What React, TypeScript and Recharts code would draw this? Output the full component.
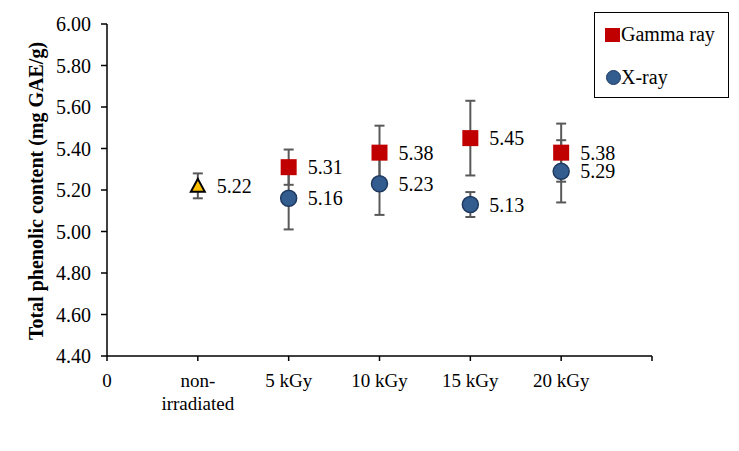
import { ScatterChart, Scatter, XAxis, YAxis, ErrorBar } from 'recharts';

const xTicks = [0, 1, 2, 3, 4, 5, 6];
const xLabels = ['0', 'non-\nirradiated', '5 kGy', '10 kGy', '15 kGy', '20 kGy', ''];
const yTicks = [4.4, 4.6, 4.8, 5.0, 5.2, 5.4, 5.6, 5.8, 6.0];

const controlX = [1];
const controlY = [5.22];
const controlErr = [0.06];

const doseX = [2, 3, 4, 5];
const gammaY = [5.31, 5.38, 5.45, 5.38];
const gammaErr = [0.085, 0.13, 0.18, 0.14];
const xrayY = [5.16, 5.23, 5.13, 5.29];
const xrayErr = [0.15, 0.15, 0.06, 0.15];

const controlData = controlX.map((x, i) => ({ x, y: controlY[i], err: controlErr[i] }));
const gammaData = doseX.map((x, i) => ({ x, y: gammaY[i], err: gammaErr[i] }));
const xrayData = doseX.map((x, i) => ({ x, y: xrayY[i], err: xrayErr[i] }));

const FONT = 'Liberation Serif, Times New Roman, serif';
const RED = '#C00000';
const BLUE = '#335C8F';
const BLUE_EDGE = '#1F3A60';
const GOLD = '#FFC000';
const BAR = '#595959';

// value label sits to the right of each marker
const valueText = (cx: number, cy: number, v: number) => (
  <text x={cx + 19} y={cy} dy="0.35em" fontFamily={FONT} fontSize={20} fill="#000">
    {v.toFixed(2)}
  </text>
);

const Square = (props: any) => {
  const { cx, cy, payload } = props;
  return (
    <g>
      <rect x={cx - 8} y={cy - 8} width={16} height={16} fill={RED} />
      {valueText(cx, cy, payload.y)}
    </g>
  );
};

const Circle = (props: any) => {
  const { cx, cy, payload } = props;
  return (
    <g>
      <circle cx={cx} cy={cy} r={8} fill={BLUE} stroke={BLUE_EDGE} strokeWidth={1.5} />
      {valueText(cx, cy, payload.y)}
    </g>
  );
};

const Triangle = (props: any) => {
  const { cx, cy, payload } = props;
  return (
    <g>
      <polygon
        points={`${cx},${cy - 7} ${cx + 7},${cy + 6} ${cx - 7},${cy + 6}`}
        fill={GOLD}
        stroke="#000"
        strokeWidth={2}
      />
      {valueText(cx, cy, payload.y)}
    </g>
  );
};

// error-bar-only series use this so all bars sit behind all markers
const Nothing = () => <g />;

const XTick = (props: any) => {
  const { x, y, payload } = props;
  const lines = xLabels[payload.value].split('\n');
  return (
    <text x={x} y={y} textAnchor="middle" fontFamily={FONT} fontSize={19} fill="#000">
      {lines.map((l, i) => (
        <tspan key={i} x={x} dy={i === 0 ? '0.71em' : 23}>
          {l}
        </tspan>
      ))}
    </text>
  );
};

const YTitle = () => (
  <text
    x={36}
    y={191}
    transform="rotate(-90 36 191)"
    textAnchor="middle"
    dominantBaseline="central"
    fontFamily={FONT}
    fontSize={20}
    fontWeight="bold"
    fill="#000"
  >
    Total phenolic content (mg GAE/g)
  </text>
);

export default function App() {
  return (
    <div style={{ width: 739, height: 451, margin: -8, position: 'relative', background: '#fff' }}>
      <ScatterChart width={739} height={451} margin={{ top: 24, right: 87, bottom: 35, left: 47 }}>
        <XAxis
          type="number"
          dataKey="x"
          domain={[0, 6]}
          ticks={xTicks}
          interval={0}
          height={60}
          tickSize={5}
          tickMargin={13}
          axisLine={{ stroke: '#000', strokeWidth: 1.5 }}
          tickLine={{ stroke: '#000', strokeWidth: 1.5 }}
          tick={(p: any) => <XTick {...p} />}
        />
        <YAxis
          type="number"
          dataKey="y"
          domain={[4.4, 6]}
          ticks={yTicks}
          interval={0}
          width={60}
          tickSize={6}
          tickMargin={10}
          allowDataOverflow
          tickFormatter={(v: number) => v.toFixed(2)}
          axisLine={{ stroke: '#000', strokeWidth: 1.5 }}
          tickLine={{ stroke: '#000', strokeWidth: 1.5 }}
          tick={{ fontFamily: FONT, fontSize: 20, fill: '#000' }}
          label={() => <YTitle />}
        />
        <Scatter data={controlData} shape={Nothing} isAnimationActive={false}>
          <ErrorBar dataKey="err" direction="y" width={5} stroke={BAR} strokeWidth={2} />
        </Scatter>
        <Scatter data={gammaData} shape={Nothing} isAnimationActive={false}>
          <ErrorBar dataKey="err" direction="y" width={5} stroke={BAR} strokeWidth={2} />
        </Scatter>
        <Scatter data={xrayData} shape={Nothing} isAnimationActive={false}>
          <ErrorBar dataKey="err" direction="y" width={5} stroke={BAR} strokeWidth={2} />
        </Scatter>
        <Scatter name="Control" data={controlData} shape={Triangle} isAnimationActive={false} />
        <Scatter name="X-ray" data={xrayData} shape={Circle} isAnimationActive={false} />
        <Scatter name="Gamma ray" data={gammaData} shape={Square} isAnimationActive={false} />
      </ScatterChart>
      <div
        style={{
          position: 'absolute',
          left: 594,
          top: 12,
          width: 135,
          height: 86,
          boxSizing: 'border-box',
          border: '1px solid #000',
          fontFamily: FONT,
          fontSize: 20,
          color: '#000',
        }}
      >
        <div style={{ position: 'absolute', left: 10, top: 15, width: 15, height: 14, background: RED }} />
        <div style={{ position: 'absolute', left: 26, top: 9, lineHeight: '24px', whiteSpace: 'nowrap' }}>Gamma ray</div>
        <div
          style={{
            position: 'absolute',
            left: 11,
            top: 57,
            width: 13,
            height: 13,
            borderRadius: '50%',
            background: BLUE,
            border: `1.5px solid ${BLUE_EDGE}`,
          }}
        />
        <div style={{ position: 'absolute', left: 26, top: 52, lineHeight: '24px', whiteSpace: 'nowrap' }}>X-ray</div>
      </div>
      <div
        style={{
          position: 'absolute',
          left: 0,
          top: 0,
          width: 739,
          height: 451,
          boxSizing: 'border-box',
          border: '2px solid #D9D9D9',
          pointerEvents: 'none',
          zIndex: 5,
        }}
      />
    </div>
  );
}
